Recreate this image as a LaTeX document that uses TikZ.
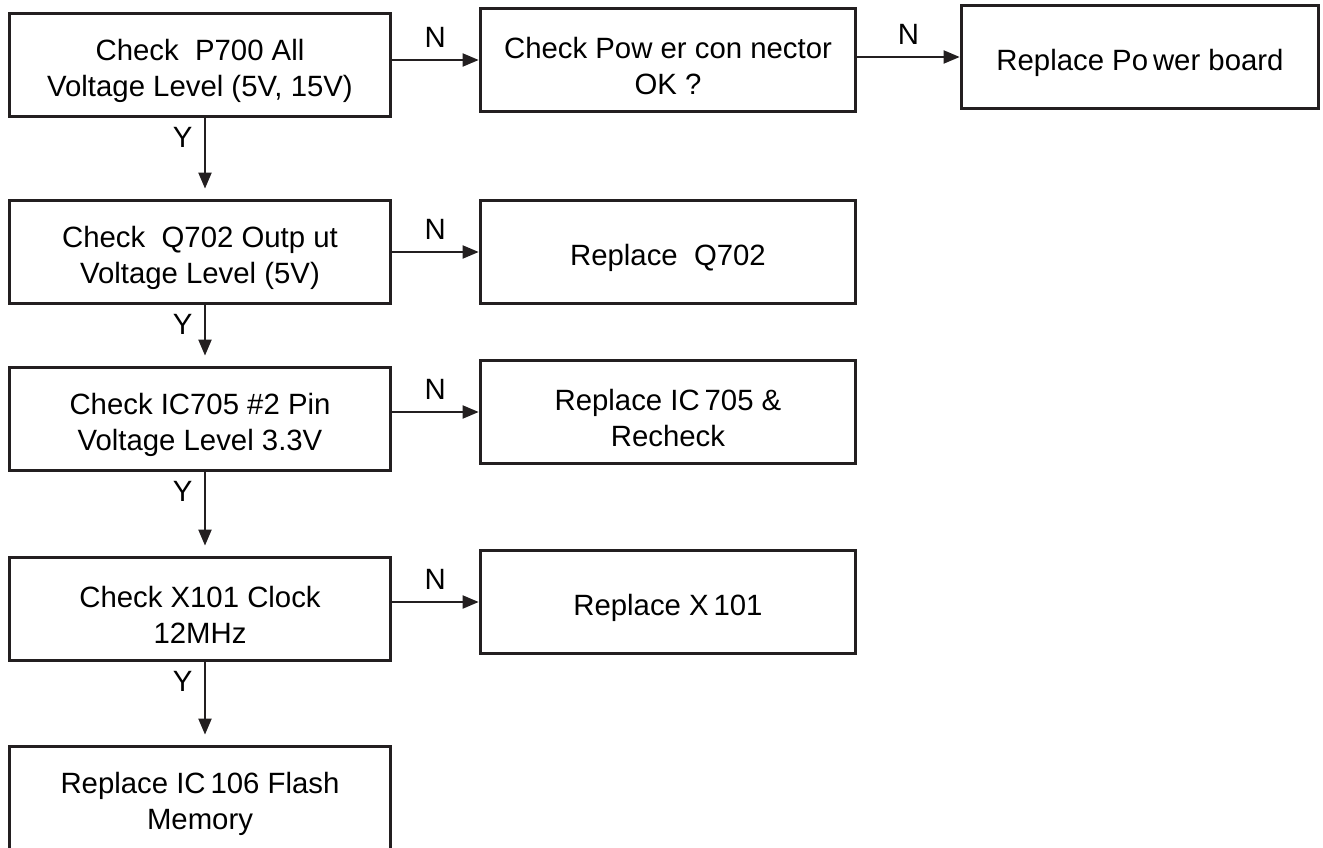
\documentclass[tikz,border=0pt]{standalone}
\usepackage{fontspec}
\setmainfont{Liberation Sans}
\usepackage{xcolor}
\usetikzlibrary{arrows.meta}
\definecolor{boxline}{HTML}{231F20}

\begin{document}
\begin{tikzpicture}[x=0.02cm,y=-0.02cm,
    box/.style={draw=boxline,line width=1.7pt,minimum width=7.62cm,minimum height=2.08cm,
      text width=7cm,align=flush center,inner sep=0pt,font=\fontsize{16.7}{20.4}\selectfont,
      execute at begin node={\rule{0pt}{18.8pt}}},
    rbox/.style={box,minimum width=7.52cm},
    flow/.style={-{Triangle[length=9pt,width=7.5pt]},draw=boxline,line width=0.7pt},
    lbl/.style={font=\fontsize{16.7}{20.4}\selectfont,inner sep=0pt}]
  \useasboundingbox (0,0) rectangle (1323,848);
  \clip (0,0) rectangle (1323,848);

  % Left column: checks
  \node[box] (p700) at (200,65) {Check\ \ P700 All\\Voltage Level (5V, 15V)};
  \node[box] (q702) at (200,252) {Check\ \ Q702 Outp ut\\Voltage Level (5V)};
  \node[box] (ic705) at (200,419) {Check IC705 \#2 Pin\\Voltage Level 3.3V};
  \node[box] (x101) at (200,609) {Check X101 Clock\\12MHz};
  \node[box] (ic106) at (200,798) {Replace IC\,106 Flash\\Memory};

  % Right column: repairs
  \node[rbox] (conn) at (668,60) {Check Pow er con nector\\OK ?};
  \node[box,minimum width=7.16cm] (pwrbd) at (1140,57) {Replace Po\,wer board};
  \node[rbox] (rq702) at (668,252) {Replace\ \ Q702};
  \node[rbox] (ric705) at (668,412) {Replace IC\,705 \&\\Recheck};
  \node[rbox] (rx101) at (668,602) {Replace X\,101};

  % N branches
  \draw[flow] (conn.west -| p700.east) -- (conn.west)
    node[lbl,midway,anchor=south,inner ysep=0.24cm] {N};
  \draw[flow] (pwrbd.west -| conn.east) -- (pwrbd.west)
    node[lbl,midway,anchor=south,inner ysep=0.24cm] {N};
  \draw[flow] (rq702.west -| q702.east) -- (rq702.west)
    node[lbl,midway,anchor=south,inner ysep=0.24cm] {N};
  \draw[flow] (ric705.west -| ic705.east) -- (ric705.west)
    node[lbl,midway,anchor=south,inner ysep=0.24cm] {N};
  \draw[flow] (rx101.west -| x101.east) -- (rx101.west)
    node[lbl,midway,anchor=south,inner ysep=0.24cm] {N};

  % Y branches
  \draw[flow] ([xshift=0.1cm]p700.south) -- ([xshift=0.1cm,yshift=0.2cm]q702.north)
    node[lbl,pos=0,anchor=north east,inner xsep=0.24cm,inner ysep=0.16cm] {Y};
  \draw[flow] ([xshift=0.1cm]q702.south) -- ([xshift=0.1cm,yshift=0.2cm]ic705.north)
    node[lbl,pos=0,anchor=north east,inner xsep=0.24cm,inner ysep=0.16cm] {Y};
  \draw[flow] ([xshift=0.1cm]ic705.south) -- ([xshift=0.1cm,yshift=0.2cm]x101.north)
    node[lbl,pos=0,anchor=north east,inner xsep=0.24cm,inner ysep=0.16cm] {Y};
  \draw[flow] ([xshift=0.1cm]x101.south) -- ([xshift=0.1cm,yshift=0.2cm]ic106.north)
    node[lbl,pos=0,anchor=north east,inner xsep=0.24cm,inner ysep=0.16cm] {Y};
\end{tikzpicture}
\end{document}
